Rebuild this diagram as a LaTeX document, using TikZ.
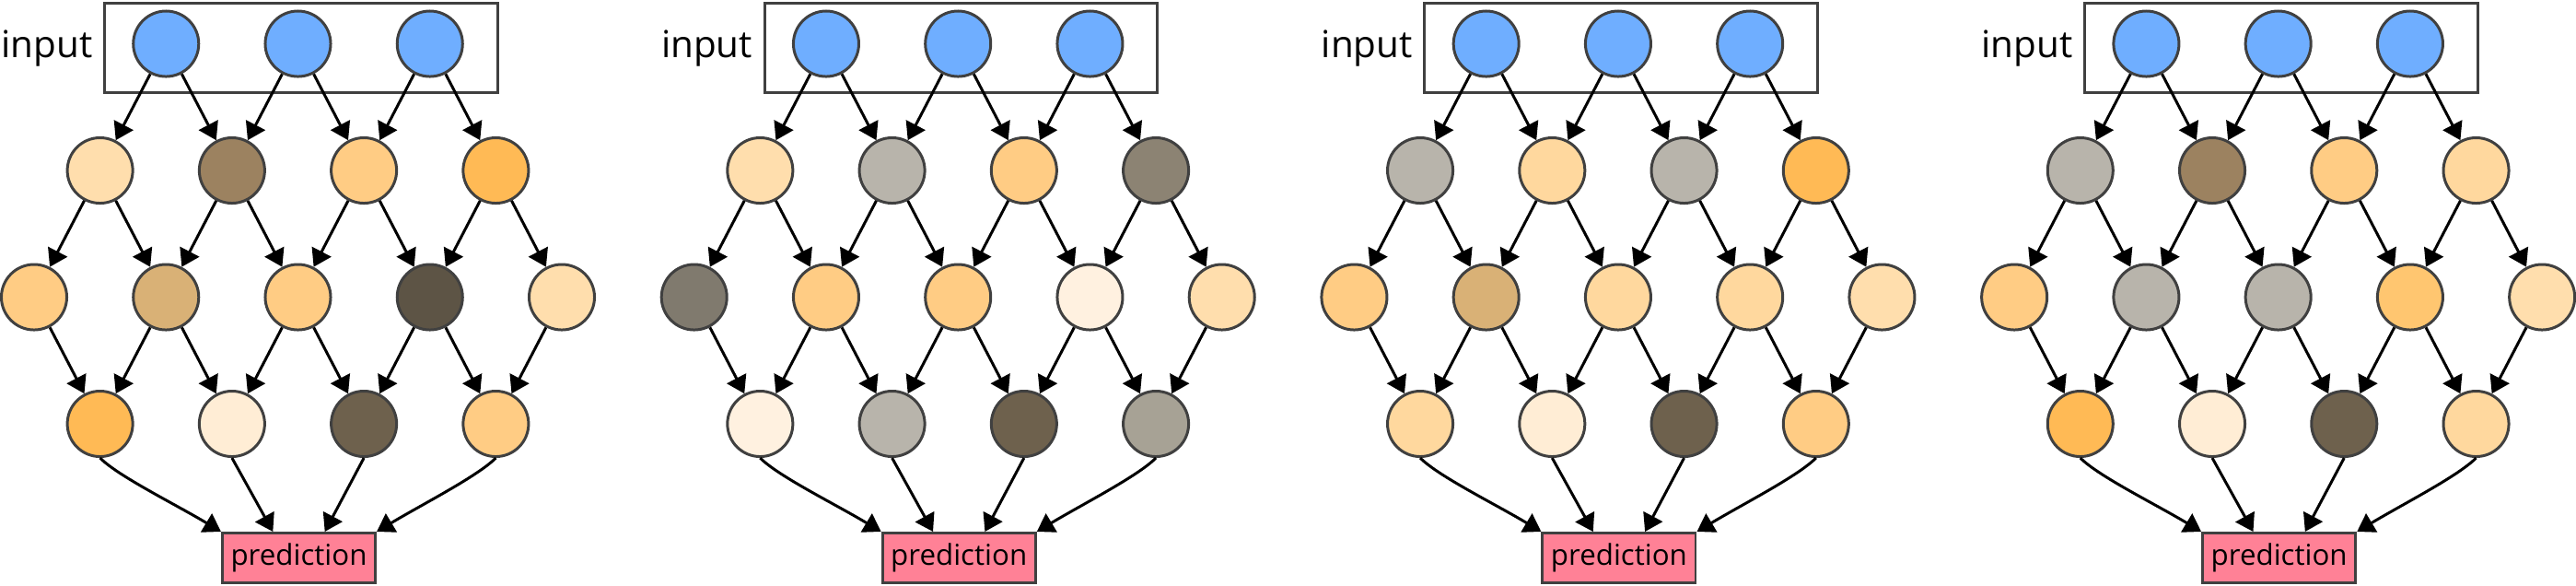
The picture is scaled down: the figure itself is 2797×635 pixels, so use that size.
\documentclass[tikz,border=0pt]{standalone}
\usepackage{fontspec}
\setmainfont{Open Sans}
\usetikzlibrary{arrows.meta,calc}

\definecolor{outline}{HTML}{404040}
\definecolor{inblue}{HTML}{6FAEFF}
\definecolor{predpink}{HTML}{FF8196}
\definecolor{cream}{HTML}{FFEDD5}
\definecolor{creamL}{HTML}{FFF1E0}
\definecolor{peachA}{HTML}{FFDEAD}
\definecolor{peachB}{HTML}{FFD89E}
\definecolor{apricot}{HTML}{FFCC84}
\definecolor{amberA}{HTML}{FFC670}
\definecolor{amberB}{HTML}{FFBA55}
\definecolor{greyA}{HTML}{B8B4AB}
\definecolor{greyB}{HTML}{A7A295}
\definecolor{greyC}{HTML}{8C8373}
\definecolor{greyD}{HTML}{807A6E}
\definecolor{brownA}{HTML}{9C8260}
\definecolor{tan}{HTML}{D9B176}
\definecolor{darkA}{HTML}{5D5445}
\definecolor{darkB}{HTML}{6E614D}

\tikzset{
  unit/.style={circle, draw=outline, line width=0.85pt, minimum size=0.71cm, inner sep=0pt},
  inbox/.style={draw=outline, line width=0.85pt, minimum width=4.265cm, minimum height=0.965cm, inner sep=0pt},
  predbox/.style={draw=outline, fill=predpink, line width=0.85pt, minimum width=1.66cm, minimum height=0.54cm, inner sep=0pt, font=\fontsize{8.9}{10}\selectfont},
  lbl/.style={inner sep=0pt, font=\fontsize{11.5}{13}\selectfont},
  link/.style={-{Triangle[width=6.6pt,length=5.3pt]}, line width=0.85pt},
}

% #1 panel, #2 first hidden row, #3 second, #4 third
\newcommand{\drawnet}[4]{%
  \begin{scope}[xshift=#1*7.163cm]
    \node[inbox] (box#1) at (326.75,51.75) {};
    \node[lbl, anchor=base east] (lab#1) at (101,62) {input};
    \foreach \i in {1,2,3}
      \node[unit, fill=inblue] (in#1\i) at ({37+143.25*\i},47.5) {};
    \foreach \c [count=\i] in {#2}
      \node[unit, fill=\c] (ra#1\i) at ({-34.625+143.25*\i},185) {};
    \foreach \c [count=\i] in {#3}
      \node[unit, fill=\c] (rb#1\i) at ({-106.25+143.25*\i},322.5) {};
    \foreach \c [count=\i] in {#4}
      \node[unit, fill=\c] (rc#1\i) at ({-34.625+143.25*\i},460) {};
    \node[predbox] (pred#1) at (324.5,605.5) {prediction};
    \coordinate (pa#1) at ($(pred#1.north west)!1/3!(pred#1.north east)$);
    \coordinate (pb#1) at ($(pred#1.north west)!2/3!(pred#1.north east)$);
    \foreach \i in {1,2,3} {
      \pgfmathtruncatemacro\j{\i+1}
      \draw[link] (in#1\i) -- (ra#1\i);
      \draw[link] (in#1\i) -- (ra#1\j);
    }
    \foreach \i in {1,...,4} {
      \pgfmathtruncatemacro\j{\i+1}
      \draw[link] (ra#1\i) -- (rb#1\i);
      \draw[link] (ra#1\i) -- (rb#1\j);
      \draw[link] (rb#1\i) -- (rc#1\i);
      \draw[link] (rb#1\j) -- (rc#1\i);
    }
    \draw[link] (rc#11.south) .. controls +(20,20) and +(-50,-30) .. (pred#1.north west);
    \draw[link] (rc#12.south) -- (pa#1);
    \draw[link] (rc#13.south) -- (pb#1);
    \draw[link] (rc#14.south) .. controls +(-20,20) and +(50,-30) .. (pred#1.north east);
  \end{scope}}

\begin{document}
\begin{tikzpicture}[x=0.01cm, y=-0.01cm]
  \useasboundingbox (0,0) rectangle (2797,635);
  \drawnet{0}{peachA,brownA,apricot,amberB}{apricot,tan,apricot,darkA,peachA}{amberB,cream,darkB,apricot}
  \drawnet{1}{peachA,greyA,apricot,greyC}{greyD,apricot,apricot,creamL,peachA}{creamL,greyA,darkB,greyB}
  \drawnet{2}{greyA,peachB,greyA,amberB}{apricot,tan,peachB,peachB,peachA}{peachB,cream,darkB,apricot}
  \drawnet{3}{greyA,brownA,apricot,peachB}{apricot,greyA,greyA,amberA,peachA}{amberB,cream,darkB,peachB}
\end{tikzpicture}
\end{document}
